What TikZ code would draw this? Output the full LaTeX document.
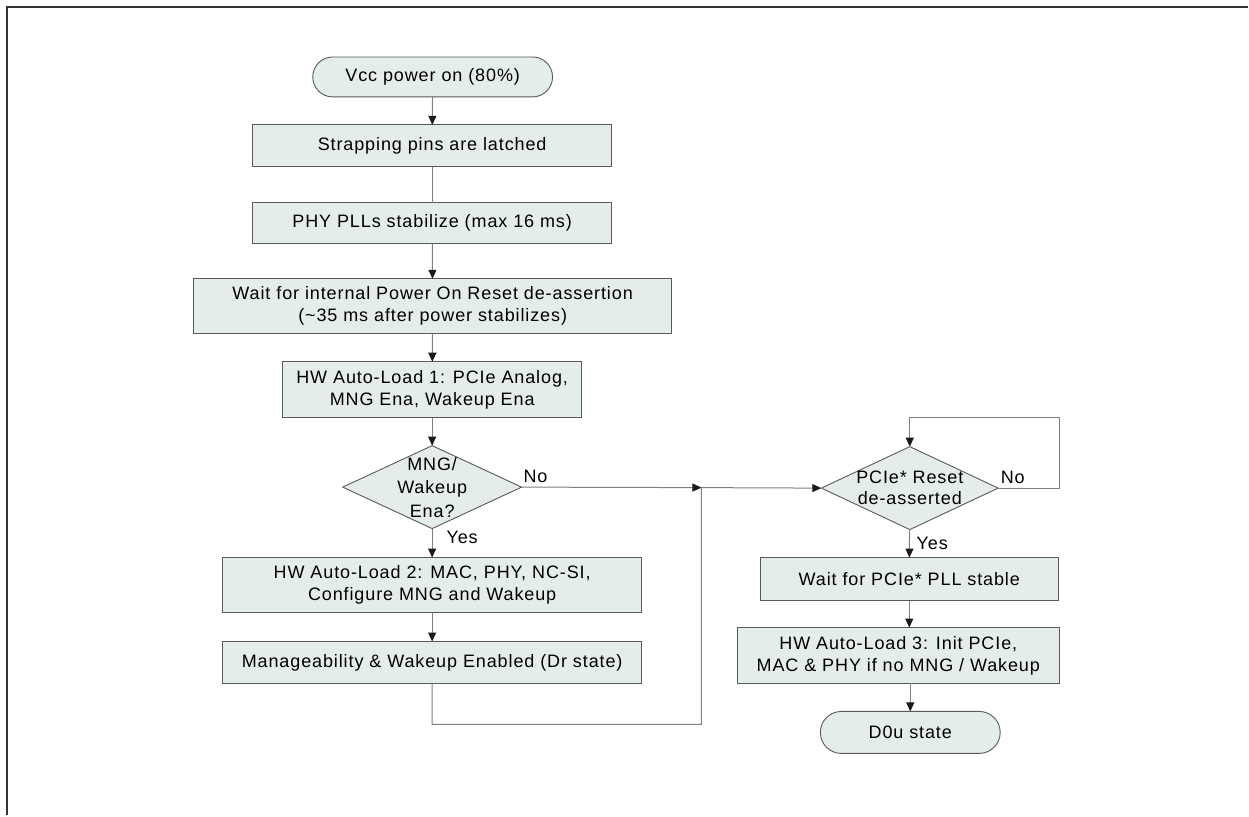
\documentclass[tikz,border=0pt]{standalone}
\usepackage{fontspec}
\newfontfamily\lbl[LetterSpace=5]{Liberation Sans}
\usetikzlibrary{shapes.geometric,arrows.meta}
\definecolor{boxfill}{HTML}{E4ECEC}
\definecolor{boxdraw}{HTML}{5A5A5A}
\definecolor{linec}{HTML}{808080}
\definecolor{tipc}{HTML}{1A1A1A}
\begin{document}
\begin{tikzpicture}[x=1pt,y=-1pt,
  every node/.style={font=\lbl\fontsize{18}{22}\selectfont, inner sep=0pt, outer sep=0pt},
  box/.style={draw=boxdraw, fill=boxfill, line width=0.9pt, align=center},
  term/.style={box, rounded corners=20pt},
  dia/.style={draw=boxdraw, fill=boxfill, line width=0.9pt, diamond, inner sep=0pt},
  conn/.style={draw=linec, line width=1pt},
  arr/.style={conn, -{Triangle[length=9pt,width=8pt,color=tipc]}},
  lab/.style={anchor=center}]

\fill[white] (0,0) rectangle (1249,816);
\draw[line width=2pt, draw=black!80] (7,816) -- (7,7) -- (1249,7);

% left column
\node[term, minimum width=240, minimum height=40] (vcc) at (433,77) {Vcc power on (80\%)};
\node[box, minimum width=359, minimum height=42] (strap) at (432.5,146) {Strapping pins are latched};
\node[box, minimum width=359, minimum height=41] (phy) at (432.5,223.5) {PHY PLLs stabilize (max 16 ms)};
\node[box, minimum width=478, minimum height=55] (wait) at (433,306.5) {Wait for internal Power On Reset de-assertion\\(\textasciitilde35 ms after power stabilizes)};
\node[box, minimum width=299, minimum height=56] (al1) at (432.5,390) {HW Auto-Load 1: PCIe Analog,\\MNG Ena, Wakeup Ena};
\node[dia, minimum width=179, minimum height=83] (d1) at (432.5,487.5) {};
\node[align=center, font=\lbl\fontsize{18}{23.5}\selectfont] (d1t) at (d1) {MNG/\\Wakeup\\Ena?};
\node[box, minimum width=419, minimum height=55] (al2) at (432.5,585.5) {HW Auto-Load 2: MAC, PHY, NC-SI,\\Configure MNG and Wakeup};
\node[box, minimum width=419, minimum height=42] (man) at (432.5,663) {Manageability \& Wakeup Enabled (Dr state)};

% right column
\node[dia, minimum width=177, minimum height=83] (d2) at (910.5,488.5) {};
\node[align=center, font=\lbl\fontsize{18}{21}\selectfont] (d2t) at (d2) {PCIe* Reset\\de-asserted};
\node[box, minimum width=298, minimum height=43] (pll) at (910,579.5) {Wait for PCIe* PLL stable};
\node[box, minimum width=322, minimum height=56] (al3) at (899,656) {HW Auto-Load 3: Init PCIe,\\MAC \& PHY if no MNG / Wakeup};
\node[term, minimum width=180, minimum height=42, rounded corners=21pt] (d0u) at (911,733) {D0u state};

% labels
\node[lab] (no1) at (536,477) {No};
\node[lab] (yes1) at (462.5,538) {Yes};
\node[lab] (no2) at (1013.5,478) {No};
\node[lab] (yes2) at (933,544) {Yes};

% junctions
\coordinate (j1) at (702,488);
\coordinate (j2) at (702,725);
\coordinate (lr) at (1060,418);

% connectors
\draw[arr] (vcc) -- (strap);
\draw[conn] (strap) -- (phy);
\draw[arr] (phy) -- (wait);
\draw[arr] (wait) -- (al1);
\draw[arr] (al1) -- (d1);
\draw[arr] (d1) -- (al2);
\draw[arr] (al2) -- (man);
\draw[arr] (d1.east) -- (j1);
\draw[arr] (man.south) |- (j2) -- (j1) -- (d2.west);
\draw[arr] (d2.east) -| (lr) -| (d2.north);
\draw[arr] (d2) -- (pll);
\draw[arr] (pll) -- (pll |- al3.north);
\draw[arr] (al3.south -| d0u) -- (d0u);
\end{tikzpicture}
\end{document}
